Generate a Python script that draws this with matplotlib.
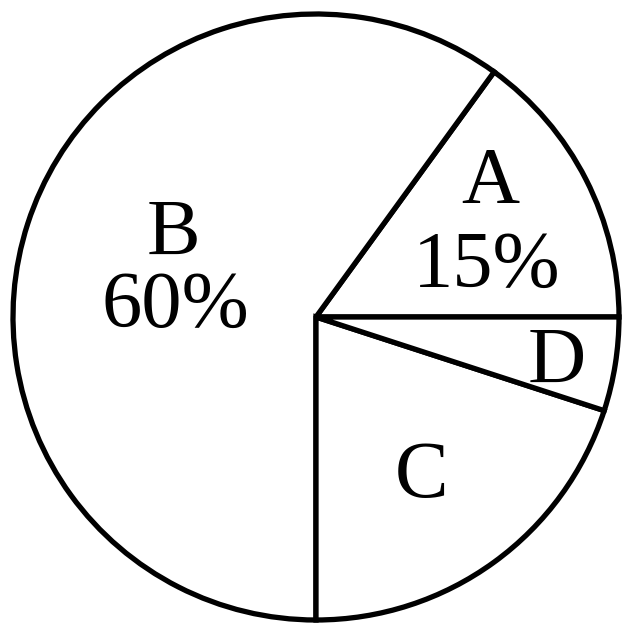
import matplotlib
matplotlib.use("Agg")
import matplotlib.pyplot as plt

labels = ["A", "B", "C", "D"]
shares = [15, 60, 20, 5]
pct_texts = ["15%", "60%"]

# baseline positions of the text lines (data units, radius = 1)
label_pos = [(0.574, 0.376), (-0.472, 0.205), (0.350, -0.594), (0.795, -0.218)]
pct_pos = [(0.564, 0.099), (-0.465, -0.033)]

fig = plt.figure(figsize=(6.32, 6.32), dpi=100)
ax = fig.add_axes([0, 0, 1, 1])
ax.pie(shares, startangle=0, counterclock=True, colors=["white"] * 4,
       wedgeprops=dict(edgecolor="black", linewidth=3.8), radius=1.0)

font = dict(ha="center", va="baseline", fontsize=58,
            family=["Liberation Serif", "DejaVu Serif"])
for t, (x, y) in zip(labels, label_pos):
    ax.text(x, y, t, **font)
for t, (x, y) in zip(pct_texts, pct_pos):
    ax.text(x, y, t, **font)

ax.set_xlim(-316 / 303, 316 / 303)
ax.set_ylim(-315 / 303, 317 / 303)
ax.set_aspect("equal")
ax.axis("off")
fig.savefig("out.png", dpi=100)
